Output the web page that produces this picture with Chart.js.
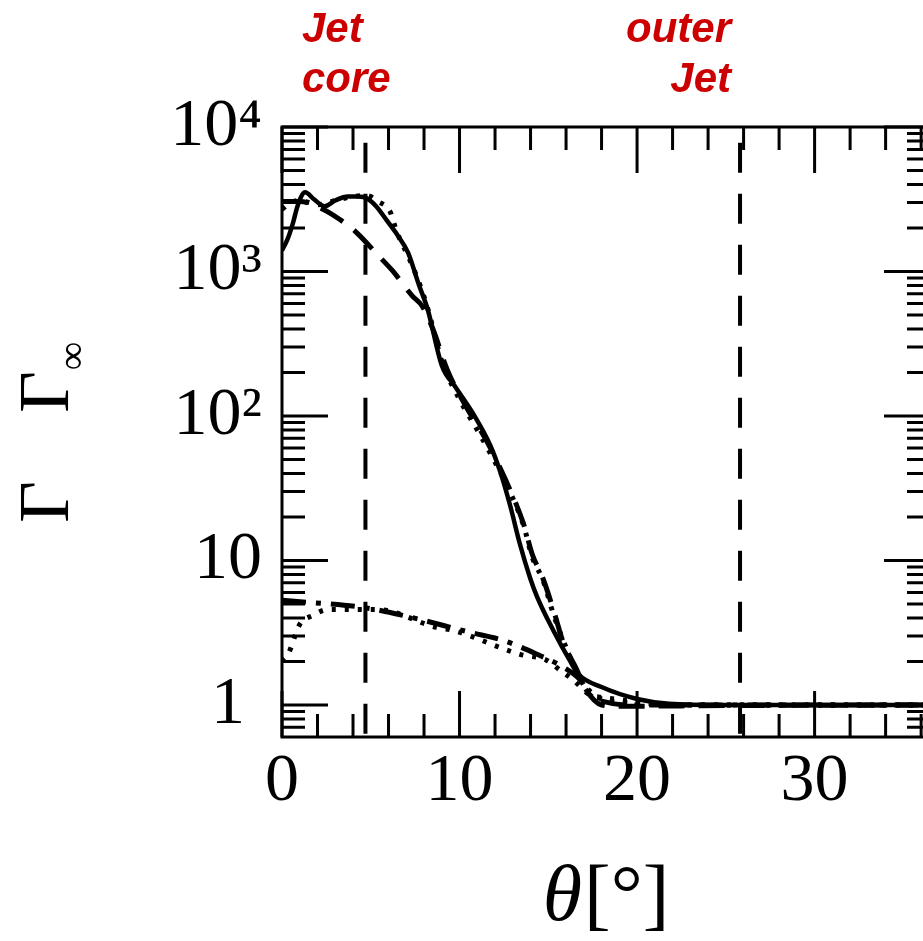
<!DOCTYPE html>
<html>
<head>
<meta charset="utf-8">
<script src="https://cdn.jsdelivr.net/npm/chart.js@4.4.1/dist/chart.umd.min.js"></script>
<style>
html, body { margin: 0; padding: 0; background: #fff; overflow: hidden; }
#wrap { position: absolute; left: 0; top: 0; width: 945px; height: 941px; }
</style>
</head>
<body>
<div id="wrap"><canvas id="gammaChart"></canvas></div>
<script>
// upper group (terminal Lorentz factor)
var solidTheta = [0, 0.3, 0.6, 0.9, 1.3, 1.8, 2.4, 3.0, 3.7, 4.3, 4.8, 5.3, 5.9, 6.5, 7.1, 7.7, 8.2, 9.0, 9.75, 10.76, 11.72, 12.28, 12.85, 13.4, 13.97, 14.37, 15.27, 16.2, 16.7, 18.0, 20.0, 21.8, 25, 30, 36.5];
var solidGamma = [1400, 1660, 2130, 2900, 3530, 3160, 2830, 3100, 3300, 3300, 3200, 2830, 2260, 1790, 1350, 815, 550, 224, 160, 104, 63, 41.5, 24, 13, 7.6, 5.6, 3.3, 2.04, 1.63, 1.33, 1.10, 1.02, 1.0, 1.0, 1.0];

var dottedTheta = [0, 0.5, 1.0, 1.5, 2.0, 3.0, 4.0, 4.8, 5.4, 6.08, 6.37, 6.65, 7.1, 7.7, 8.2, 9.0, 10.0, 11.0, 12.0, 12.67, 13.6, 14.1, 14.7, 15.3, 16.0, 16.6, 17.2, 18, 19, 20, 22, 30, 36.5];
var dottedGamma = [2700, 3000, 3100, 3000, 2900, 3100, 3300, 3350, 3050, 2610, 2040, 1660, 1280, 850, 560, 240, 130, 80, 48, 33, 17.6, 10.5, 7.3, 4.2, 2.5, 1.7, 1.3, 1.1, 1.05, 1.02, 1.0, 1.0, 1.0];

var dashedTheta = [0, 1.0, 2.3, 3.26, 4.2, 5.5, 6.2, 7.35, 7.9, 8.5, 9.3, 10.3, 11.5, 12.6, 13.6, 14.1, 14.7, 15.4, 15.8, 16.6, 17.1, 18, 19, 25, 36.5];
var dashedGamma = [3050, 3050, 2700, 2290, 1860, 1260, 1020, 676, 575, 400, 210, 120, 68, 36, 18, 11, 7.5, 4.1, 2.8, 1.76, 1.29, 1.0, 0.98, 0.99, 1.0];

// lower group
var dashDotTheta = [0, 1.58, 4.56, 6.8, 10.6, 12.45, 14.37, 15.83, 16.8, 17.35, 18.2, 19.5, 22, 36.5];
var dashDotGamma = [5.3, 5.12, 4.73, 4.17, 3.18, 2.80, 2.24, 1.83, 1.49, 1.17, 1.05, 1.0, 1.0, 1.0];

var lowDotTheta = [0, 0.34, 1.0, 1.75, 2.6, 5.35, 8.7, 9.6, 13.4, 14.9, 15.66, 16.4, 17.35, 18.0, 20, 22, 36.5];
var lowDotGamma = [2.0, 2.24, 3.61, 4.17, 4.58, 4.58, 3.44, 3.29, 2.24, 2.04, 1.74, 1.49, 1.17, 1.13, 1.05, 1.0, 1.0];

// jet core / outer jet boundaries
var boundaryTheta = [4.7, 25.8];

var xMin = 0, xMax = 36.5;
var yMin = 0.631, yMax = 10000;

var xTickValues = [0, 2, 4, 6, 8, 10, 12, 14, 16, 18, 20, 22, 24, 26, 28, 30, 32, 34, 36];
var xTickLabels = { 0: '0', 10: '10', 20: '20', 30: '30' };
var yMajorValues = [1, 10, 100, 1000, 10000];
var yTickLabels = ['1 ', '10', '10\u00B2', '10\u00B3', '10\u2074'];
var yTickValues = [0.7, 0.8, 0.9];
yMajorValues.forEach(function (d) {
    for (var k = 1; k <= 9; k++) {
        if (d * k <= yMax) yTickValues.push(d * k);
    }
});

function pairs(xs, ys) {
    return xs.map(function (x, i) { return { x: x, y: ys[i] }; });
}

var serif = '"Liberation Serif", "DejaVu Serif", serif';

var frameAndTicks = {
    id: 'frameAndTicks',
    afterDraw: function (chart) {
        var ctx = chart.ctx;
        var a = chart.chartArea;
        var xs = chart.scales.x;
        var ys = chart.scales.y;
        ctx.save();
        ctx.strokeStyle = '#000';
        ctx.lineWidth = 3;
        ctx.strokeRect(a.left, a.top, a.right - a.left, a.bottom - a.top);

        ctx.beginPath();
        xTickValues.forEach(function (v) {
            var px = xs.getPixelForValue(v);
            var len = v % 10 === 0 ? 46 : 23;
            ctx.moveTo(px, a.bottom); ctx.lineTo(px, a.bottom - len);
            ctx.moveTo(px, a.top); ctx.lineTo(px, a.top + len);
        });
        yTickValues.forEach(function (v) {
            var py = ys.getPixelForValue(v);
            var len = yMajorValues.indexOf(v) >= 0 ? 46 : 23;
            ctx.moveTo(a.left, py); ctx.lineTo(a.left + len, py);
            ctx.moveTo(a.right, py); ctx.lineTo(a.right - len, py);
        });
        ctx.stroke();

        // y axis title: Gamma  Gamma_inf (rotated)
        ctx.fillStyle = '#000';
        ctx.font = '72px ' + serif;
        ctx.textAlign = 'center';
        ctx.textBaseline = 'alphabetic';
        ctx.save();
        ctx.translate(68, 502);
        ctx.rotate(-Math.PI / 2);
        ctx.fillText('\u0393', 0, 0);
        ctx.restore();
        ctx.save();
        ctx.translate(68, 392);
        ctx.rotate(-Math.PI / 2);
        ctx.fillText('\u0393', 0, 0);
        ctx.font = '40px ' + serif;
        ctx.fillText('\u221E', 36, 17);
        ctx.restore();

        // x axis title
        ctx.textAlign = 'left';
        ctx.font = 'italic 80px ' + serif;
        var w1 = ctx.measureText('\u03B8').width;
        ctx.font = '80px ' + serif;
        var w2 = ctx.measureText('[\u00B0]').width;
        var x0 = 605 - (w1 + w2) / 2;
        ctx.font = 'italic 80px ' + serif;
        ctx.fillText('\u03B8', x0, 920);
        ctx.font = '80px ' + serif;
        ctx.fillText('[\u00B0]', x0 + w1 + 2, 920);

        // annotations
        ctx.fillStyle = '#cc0000';
        ctx.font = 'italic bold 42px "Liberation Sans", Arial, sans-serif';
        ctx.textAlign = 'left';
        ctx.fillText('Jet', 302, 42);
        ctx.fillText('core', 302, 92);
        ctx.textAlign = 'right';
        ctx.fillText('outer', 731, 42);
        ctx.fillText('Jet', 731, 92);
        ctx.restore();
    }
};

var lineBase = { borderColor: '#000', pointRadius: 0, fill: false, cubicInterpolationMode: 'monotone', borderCapStyle: 'butt' };

var datasets = [
    Object.assign({ label: 'solid', data: pairs(solidTheta, solidGamma), borderWidth: 4.5 }, lineBase),
    Object.assign({ label: 'dotted', data: pairs(dottedTheta, dottedGamma), borderWidth: 5, borderDash: [4, 9] }, lineBase),
    Object.assign({ label: 'dashed', data: pairs(dashedTheta, dashedGamma), borderWidth: 5, borderDash: [26, 14] }, lineBase),
    Object.assign({ label: 'dash-dot', data: pairs(dashDotTheta, dashDotGamma), borderWidth: 5, borderDash: [24, 10, 5, 10] }, lineBase),
    Object.assign({ label: 'dotted low', data: pairs(lowDotTheta, lowDotGamma), borderWidth: 5, borderDash: [4, 9] }, lineBase)
];
boundaryTheta.forEach(function (t) {
    datasets.push({
        label: 'boundary',
        data: [{ x: t, y: yMin }, { x: t, y: yMax }],
        borderColor: '#000', borderWidth: 4, borderDash: [30, 21], pointRadius: 0, fill: false
    });
});

var config = {
    type: 'line',
    data: { datasets: datasets },
    options: {
        responsive: true,
        maintainAspectRatio: false,
        animation: false,
        devicePixelRatio: 1,
        layout: { padding: { left: 0, top: 127, right: 15, bottom: 0 } },
        plugins: { legend: { display: false }, tooltip: { enabled: false } },
        scales: {
            x: {
                type: 'linear',
                min: xMin,
                max: xMax,
                grid: { display: false, drawTicks: false },
                border: { display: false },
                afterBuildTicks: function (scale) {
                    scale.ticks = xTickValues.map(function (v) { return { value: v }; });
                },
                afterFit: function (scale) { scale.height = 941 - 737; },
                ticks: {
                    autoSkip: false,
                    maxRotation: 0,
                    padding: 4,
                    color: '#000',
                    font: { family: serif, size: 68 },
                    callback: function (v) { return xTickLabels[v] !== undefined ? xTickLabels[v] : ''; }
                }
            },
            y: {
                type: 'logarithmic',
                min: yMin,
                max: yMax,
                grid: { display: false, drawTicks: false },
                border: { display: false },
                afterBuildTicks: function (scale) {
                    scale.ticks = yTickValues.map(function (v) { return { value: v }; });
                },
                afterFit: function (scale) { scale.width = 282; },
                ticks: {
                    autoSkip: false,
                    padding: 20,
                    color: '#000',
                    font: { family: serif, size: 68 },
                    callback: function (v) {
                        var i = yMajorValues.indexOf(v);
                        return i >= 0 ? yTickLabels[i] : '';
                    }
                }
            }
        }
    },
    plugins: [frameAndTicks]
};

var gammaChart = new Chart(document.getElementById('gammaChart'), config);
</script>
</body>
</html>
